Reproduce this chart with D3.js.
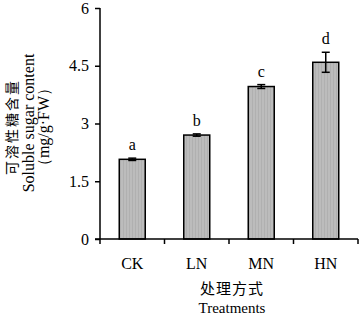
<!DOCTYPE html>
<html><head><meta charset="utf-8">
<script src="https://cdn.jsdelivr.net/npm/d3@7"></script>
<style>body{margin:0;background:#fff}svg{display:block}</style>
</head><body>
<script>
const categories = ["CK","LN","MN","HN"];
const values = [2.07, 2.70, 3.96, 4.59];
const errors = [0.03, 0.03, 0.05, 0.26];
const letters = ["a","b","c","d"];
const yTicks = [0, 1.5, 3, 4.5, 6];

const W = 364, H = 316;
const m = {left:100, right:6, top:8, bottom:77};
const svg = d3.select("body").append("svg").attr("width",W).attr("height",H);
const defs = svg.append("defs");
const pat = defs.append("pattern").attr("id","stripe").attr("patternUnits","userSpaceOnUse").attr("width",3).attr("height",4);
pat.append("rect").attr("width",3).attr("height",4).attr("fill","#bcbcbc");
pat.append("rect").attr("width",1).attr("height",4).attr("fill","#b0b0b0");

const xb = d3.scaleBand().domain(categories).range([m.left, W-m.right]);
const y = d3.scaleLinear().domain([0,6]).range([H-m.bottom, m.top]);
const serif = "'Liberation Serif','Times New Roman',serif";
const cjk = "'Noto Sans CJK SC',sans-serif";

// bars
svg.append("g").selectAll("rect").data(categories).join("rect")
  .attr("x", d=>xb(d)+xb.bandwidth()/2-13).attr("width",26)
  .attr("y",(d,i)=>y(values[i])).attr("height",(d,i)=>y(0)-y(values[i]))
  .attr("fill","url(#stripe)").attr("stroke","#000").attr("stroke-width",1.5);

// error bars
const eg = svg.append("g").attr("stroke","#000").attr("stroke-width",1.5);
categories.forEach((c,i)=>{
  const cx = xb(c)+xb.bandwidth()/2;
  eg.append("line").attr("x1",cx).attr("x2",cx).attr("y1",y(values[i]+errors[i])).attr("y2",y(values[i]-errors[i]));
  eg.append("line").attr("x1",cx-4).attr("x2",cx+4).attr("y1",y(values[i]+errors[i])).attr("y2",y(values[i]+errors[i]));
  eg.append("line").attr("x1",cx-4).attr("x2",cx+4).attr("y1",y(values[i]-errors[i])).attr("y2",y(values[i]-errors[i]));
  svg.append("text").attr("x",cx).attr("y",y(values[i]+errors[i])-8).attr("text-anchor","middle")
    .attr("font-family",serif).attr("font-size",16).text(letters[i]);
});

// y axis
const ya = svg.append("g").attr("transform",`translate(${m.left},0)`)
  .call(d3.axisLeft(y).tickValues(yTicks).tickSize(5).tickPadding(6).tickFormat(d=>d));
ya.selectAll("text").attr("font-family",serif).attr("font-size",16).attr("fill","#000");
ya.selectAll("line,path").attr("stroke","#000").attr("stroke-width",1.5);
ya.select(".domain").attr("d",`M0,${m.top}V${y(0)}`);

// x axis
const xa = svg.append("g").attr("transform",`translate(0,${y(0)})`);
xa.append("line").attr("x1",m.left-5).attr("x2",W-m.right).attr("stroke","#000").attr("stroke-width",1.5);
const bounds = categories.map(c=>xb(c)).concat([W-m.right]);
xa.selectAll(".tk").data(bounds).join("line").attr("x1",d=>d).attr("x2",d=>d).attr("y1",0).attr("y2",5)
  .attr("stroke","#000").attr("stroke-width",1.5);
xa.selectAll(".lbl").data(categories).join("text").attr("x",d=>xb(d)+xb.bandwidth()/2).attr("y",30)
  .attr("text-anchor","middle").attr("font-family",serif).attr("font-size",16).text(d=>d);

// x title
svg.append("text").attr("x",232).attr("y",294).attr("text-anchor","middle")
  .attr("font-family",cjk).attr("font-size",15).attr("letter-spacing",1).text("处理方式");
svg.append("text").attr("x",232).attr("y",313).attr("text-anchor","middle")
  .attr("font-family",serif).attr("font-size",15).text("Treatments");

// y title
const yt = svg.append("g").attr("transform","translate(0,127) rotate(-90)");
yt.append("text").attr("x",0).attr("y",17).attr("text-anchor","middle")
  .attr("font-family",cjk).attr("font-size",14).attr("letter-spacing",2).text("可溶性糖含量");
yt.append("text").attr("x",4).attr("y",34).attr("text-anchor","middle")
  .attr("font-family",serif).attr("font-size",16).text("Soluble sugar content");
yt.append("text").attr("x",0).attr("y",49).attr("text-anchor","middle")
  .attr("font-family",serif).attr("font-size",16).text("（mg/g·FW）");
</script>
</body></html>
